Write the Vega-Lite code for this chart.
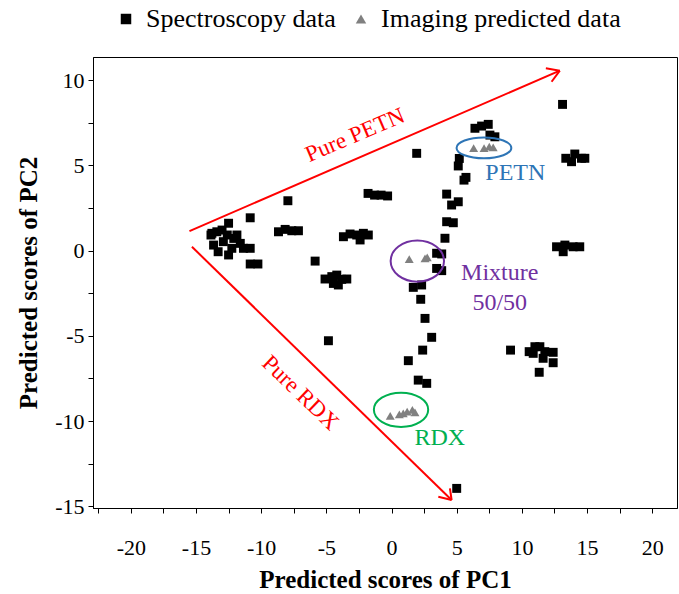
{
  "$schema": "https://vega.github.io/schema/vega-lite/v6.json",
  "width": 584,
  "height": 451,
  "autosize": {"type": "none"},
  "padding": {"left": 93, "top": 57, "right": 2, "bottom": 86},
  "background": "white",
  "config": {
    "view": {"stroke": "black", "strokeWidth": 1},
    "axis": {
      "grid": false,
      "domainColor": "black",
      "tickColor": "black",
      "labelColor": "black",
      "titleColor": "black",
      "labelFont": "Liberation Serif",
      "titleFont": "Liberation Serif",
      "labelFontSize": 22,
      "titleFontSize": 25,
      "titleFontWeight": "bold",
      "tickSize": 5,
      "labelOverlap": false
    },
    "legend": {"labelFont": "Liberation Serif", "labelFontSize": 26, "labelColor": "black", "labelLimit": 400}
  },
  "datasets": {
    "pts": [
      {"type": "Spectroscopy data", "x": -13.85, "y": 0.91},
      {"type": "Spectroscopy data", "x": -13.78, "y": 1.01},
      {"type": "Spectroscopy data", "x": -13.4, "y": 1.1},
      {"type": "Spectroscopy data", "x": -13.0, "y": 1.2},
      {"type": "Spectroscopy data", "x": -12.5, "y": 1.6},
      {"type": "Spectroscopy data", "x": -12.6, "y": 0.91},
      {"type": "Spectroscopy data", "x": -12.1, "y": 0.71},
      {"type": "Spectroscopy data", "x": -12.9, "y": 0.52},
      {"type": "Spectroscopy data", "x": -13.3, "y": -0.07},
      {"type": "Spectroscopy data", "x": -12.5, "y": -0.26},
      {"type": "Spectroscopy data", "x": -12.25, "y": 0.13},
      {"type": "Spectroscopy data", "x": -11.6, "y": 0.42},
      {"type": "Spectroscopy data", "x": -11.36, "y": 0.13},
      {"type": "Spectroscopy data", "x": -10.84, "y": 0.13},
      {"type": "Spectroscopy data", "x": -13.65, "y": 0.32},
      {"type": "Spectroscopy data", "x": -11.86, "y": 0.91},
      {"type": "Spectroscopy data", "x": -10.84, "y": 1.92},
      {"type": "Spectroscopy data", "x": -7.95, "y": 2.92},
      {"type": "Spectroscopy data", "x": -8.67, "y": 1.1},
      {"type": "Spectroscopy data", "x": -8.16, "y": 1.24},
      {"type": "Spectroscopy data", "x": -7.65, "y": 1.16},
      {"type": "Spectroscopy data", "x": -7.14, "y": 1.16},
      {"type": "Spectroscopy data", "x": -10.84, "y": -0.79},
      {"type": "Spectroscopy data", "x": -10.25, "y": -0.79},
      {"type": "Spectroscopy data", "x": -5.86, "y": -0.62},
      {"type": "Spectroscopy data", "x": -5.1, "y": -1.67},
      {"type": "Spectroscopy data", "x": -4.58, "y": -1.53},
      {"type": "Spectroscopy data", "x": -4.2, "y": -1.44},
      {"type": "Spectroscopy data", "x": -3.82, "y": -1.69},
      {"type": "Spectroscopy data", "x": -3.43, "y": -1.67},
      {"type": "Spectroscopy data", "x": -4.46, "y": -1.93},
      {"type": "Spectroscopy data", "x": -4.08, "y": -2.02},
      {"type": "Spectroscopy data", "x": -3.69, "y": 0.81},
      {"type": "Spectroscopy data", "x": -3.18, "y": 0.97},
      {"type": "Spectroscopy data", "x": -2.67, "y": 0.91},
      {"type": "Spectroscopy data", "x": -2.16, "y": 1.01},
      {"type": "Spectroscopy data", "x": -1.78, "y": 0.91},
      {"type": "Spectroscopy data", "x": -2.41, "y": 0.62},
      {"type": "Spectroscopy data", "x": -1.8, "y": 3.35},
      {"type": "Spectroscopy data", "x": -1.3, "y": 3.25},
      {"type": "Spectroscopy data", "x": -0.8, "y": 3.25},
      {"type": "Spectroscopy data", "x": -0.3, "y": 3.2},
      {"type": "Spectroscopy data", "x": -4.84, "y": -5.29},
      {"type": "Spectroscopy data", "x": 1.93, "y": 5.7},
      {"type": "Spectroscopy data", "x": 6.4, "y": 7.17},
      {"type": "Spectroscopy data", "x": 6.91, "y": 7.3},
      {"type": "Spectroscopy data", "x": 7.42, "y": 7.4},
      {"type": "Spectroscopy data", "x": 7.55, "y": 6.77},
      {"type": "Spectroscopy data", "x": 7.93, "y": 6.67},
      {"type": "Spectroscopy data", "x": 5.2, "y": 5.4},
      {"type": "Spectroscopy data", "x": 5.12, "y": 4.96},
      {"type": "Spectroscopy data", "x": 5.71, "y": 4.29},
      {"type": "Spectroscopy data", "x": 5.56, "y": 4.13},
      {"type": "Spectroscopy data", "x": 4.23, "y": 3.31},
      {"type": "Spectroscopy data", "x": 5.12, "y": 2.86},
      {"type": "Spectroscopy data", "x": 4.61, "y": 2.67},
      {"type": "Spectroscopy data", "x": 4.23, "y": 1.69},
      {"type": "Spectroscopy data", "x": 4.74, "y": 1.63},
      {"type": "Spectroscopy data", "x": 4.1, "y": 0.72},
      {"type": "Spectroscopy data", "x": 3.46, "y": -0.16},
      {"type": "Spectroscopy data", "x": 3.85, "y": -0.2},
      {"type": "Spectroscopy data", "x": 3.46, "y": -1.05},
      {"type": "Spectroscopy data", "x": 3.85, "y": -1.18},
      {"type": "Spectroscopy data", "x": 1.67, "y": -2.16},
      {"type": "Spectroscopy data", "x": 2.31, "y": -2.02},
      {"type": "Spectroscopy data", "x": 2.24, "y": -2.86},
      {"type": "Spectroscopy data", "x": 2.57, "y": -3.98},
      {"type": "Spectroscopy data", "x": 3.08, "y": -5.09},
      {"type": "Spectroscopy data", "x": 2.39, "y": -5.84},
      {"type": "Spectroscopy data", "x": 1.29, "y": -6.46},
      {"type": "Spectroscopy data", "x": 2.05, "y": -7.6},
      {"type": "Spectroscopy data", "x": 2.7, "y": -7.79},
      {"type": "Spectroscopy data", "x": 13.12, "y": 8.57},
      {"type": "Spectroscopy data", "x": 13.37, "y": 5.41},
      {"type": "Spectroscopy data", "x": 14.06, "y": 5.66},
      {"type": "Spectroscopy data", "x": 14.57, "y": 5.41},
      {"type": "Spectroscopy data", "x": 13.81, "y": 5.21},
      {"type": "Spectroscopy data", "x": 14.83, "y": 5.41},
      {"type": "Spectroscopy data", "x": 12.66, "y": 0.22},
      {"type": "Spectroscopy data", "x": 13.3, "y": 0.32},
      {"type": "Spectroscopy data", "x": 13.93, "y": 0.22},
      {"type": "Spectroscopy data", "x": 14.44, "y": 0.22},
      {"type": "Spectroscopy data", "x": 13.17, "y": -0.07},
      {"type": "Spectroscopy data", "x": 9.13, "y": -5.84},
      {"type": "Spectroscopy data", "x": 10.56, "y": -5.93},
      {"type": "Spectroscopy data", "x": 11.0, "y": -5.64},
      {"type": "Spectroscopy data", "x": 11.38, "y": -5.64},
      {"type": "Spectroscopy data", "x": 11.76, "y": -5.93},
      {"type": "Spectroscopy data", "x": 12.4, "y": -5.97},
      {"type": "Spectroscopy data", "x": 11.63, "y": -6.32},
      {"type": "Spectroscopy data", "x": 12.4, "y": -6.58},
      {"type": "Spectroscopy data", "x": 10.87, "y": -6.03},
      {"type": "Spectroscopy data", "x": 11.33, "y": -7.14},
      {"type": "Spectroscopy data", "x": 5.0, "y": -13.95},
      {"type": "Imaging predicted data", "x": 6.3, "y": 6.0},
      {"type": "Imaging predicted data", "x": 7.1, "y": 6.0},
      {"type": "Imaging predicted data", "x": 7.5, "y": 6.1},
      {"type": "Imaging predicted data", "x": 7.8, "y": 6.05},
      {"type": "Imaging predicted data", "x": 1.36, "y": -0.5},
      {"type": "Imaging predicted data", "x": 2.57, "y": -0.46},
      {"type": "Imaging predicted data", "x": 2.74, "y": -0.4},
      {"type": "Imaging predicted data", "x": -0.1, "y": -9.69},
      {"type": "Imaging predicted data", "x": 0.6, "y": -9.61},
      {"type": "Imaging predicted data", "x": 0.9, "y": -9.55},
      {"type": "Imaging predicted data", "x": 1.2, "y": -9.45},
      {"type": "Imaging predicted data", "x": 1.6, "y": -9.35},
      {"type": "Imaging predicted data", "x": 1.8, "y": -9.49}
    ],
    "arrows": [
      {"x": -15.5, "y": 1.14, "x2": 12.91, "y2": 10.55},
      {"x": 11.84, "y": 10.69, "x2": 12.91, "y2": 10.55},
      {"x": 12.28, "y": 9.9, "x2": 12.91, "y2": 10.55},
      {"x": -15.31, "y": 0.22, "x2": 4.61, "y2": -14.63},
      {"x": 3.59, "y": -14.44, "x2": 4.61, "y2": -14.63},
      {"x": 4.48, "y": -13.95, "x2": 4.61, "y2": -14.63}
    ]
  },
  "layer": [
    {
      "mark": {"type": "rule", "color": "black", "strokeWidth": 1},
      "encoding": {"y": {"datum": 0, "type": "quantitative"}}
    },
    {
      "mark": {"type": "rule", "color": "black", "strokeWidth": 1},
      "encoding": {"x": {"datum": 0, "type": "quantitative"}}
    },
    {
      "data": {"name": "pts"},
      "mark": {"type": "point", "filled": true, "opacity": 1, "size": 80},
      "encoding": {
        "x": {
          "field": "x", "type": "quantitative",
          "scale": {"domain": [-22.9, 21.9], "nice": false, "zero": false},
          "axis": {
            "title": "Predicted scores of PC1",
            "values": [-22.5, -20, -17.5, -15, -12.5, -10, -7.5, -5, -2.5, 0, 2.5, 5, 7.5, 10, 12.5, 15, 17.5, 20],
            "tickCount": 40,
            "labelExpr": "datum.value % 5 === 0 ? '' + datum.value : ''",
            "labelPadding": 24,
            "titlePadding": 9
          }
        },
        "y": {
          "field": "y", "type": "quantitative",
          "scale": {"domain": [-15.1, 11.35], "nice": false, "zero": false},
          "axis": {
            "title": "Predicted scores of PC2",
            "values": [-15, -12.5, -10, -7.5, -5, -2.5, 0, 2.5, 5, 7.5, 10],
            "tickCount": 40,
            "labelExpr": "datum.value % 5 === 0 ? '' + datum.value : ''",
            "labelPadding": 4,
            "titlePadding": 13
          }
        },
        "color": {
          "field": "type", "type": "nominal",
          "scale": {"domain": ["Spectroscopy data", "Imaging predicted data"], "range": ["#000000", "#808080"]},
          "legend": {"title": null, "orient": "none", "direction": "horizontal", "legendX": 20, "legendY": -51, "symbolSize": 110, "columnPadding": 12, "labelOffset": 7}
        },
        "shape": {
          "field": "type", "type": "nominal",
          "scale": {"domain": ["Spectroscopy data", "Imaging predicted data"], "range": ["square", "triangle-up"]},
          "legend": {"title": null, "orient": "none", "direction": "horizontal", "legendX": 20, "legendY": -51, "symbolSize": 110, "columnPadding": 12, "labelOffset": 7}
        }
      }
    },
    {
      "data": {"name": "arrows"},
      "mark": {"type": "rule", "color": "#ff0000", "strokeWidth": 2},
      "encoding": {
        "x": {"field": "x", "type": "quantitative"},
        "y": {"field": "y", "type": "quantitative"},
        "x2": {"field": "x2"},
        "y2": {"field": "y2"}
      }
    },
    {
      "data": {"values": [{"x": 7.09, "y": 6.02}]},
      "mark": {"type": "point", "filled": false, "color": "#2E75B6", "strokeWidth": 2, "opacity": 1, "size": 3000, "shape": "M-1,0A1,0.38 0 1,1 1,0A1,0.38 0 1,1 -1,0Z"},
      "encoding": {"x": {"field": "x", "type": "quantitative"}, "y": {"field": "y", "type": "quantitative"}}
    },
    {
      "data": {"values": [{"x": 1.98, "y": -0.62}]},
      "mark": {"type": "point", "filled": false, "color": "#7030A0", "strokeWidth": 2, "opacity": 1, "size": 2850, "shape": "M-1,0A1,0.77 0 1,1 1,0A1,0.77 0 1,1 -1,0Z"},
      "encoding": {"x": {"field": "x", "type": "quantitative"}, "y": {"field": "y", "type": "quantitative"}}
    },
    {
      "data": {"values": [{"x": 0.73, "y": -9.34}]},
      "mark": {"type": "point", "filled": false, "color": "#00B050", "strokeWidth": 2, "opacity": 1, "size": 2950, "shape": "M-1,0A1,0.63 0 1,1 1,0A1,0.63 0 1,1 -1,0Z"},
      "encoding": {"x": {"field": "x", "type": "quantitative"}, "y": {"field": "y", "type": "quantitative"}}
    },
    {
      "data": {"values": [{"x": -2.8, "y": 6.77, "label": "Pure PETN"}]},
      "mark": {"type": "text", "color": "#ff0000", "font": "Liberation Serif", "fontSize": 23, "angle": -23, "align": "center", "baseline": "middle"},
      "encoding": {"x": {"field": "x", "type": "quantitative"}, "y": {"field": "y", "type": "quantitative"}, "text": {"field": "label"}}
    },
    {
      "data": {"values": [{"x": -7.0, "y": -8.35, "label": "Pure RDX"}]},
      "mark": {"type": "text", "color": "#ff0000", "font": "Liberation Serif", "fontSize": 23, "angle": 44, "align": "center", "baseline": "middle"},
      "encoding": {"x": {"field": "x", "type": "quantitative"}, "y": {"field": "y", "type": "quantitative"}, "text": {"field": "label"}}
    },
    {
      "data": {"values": [{"x": 9.5, "y": 4.55, "label": "PETN"}]},
      "mark": {"type": "text", "color": "#2E75B6", "font": "Liberation Serif", "fontSize": 24, "align": "center", "baseline": "middle"},
      "encoding": {"x": {"field": "x", "type": "quantitative"}, "y": {"field": "y", "type": "quantitative"}, "text": {"field": "label"}}
    },
    {
      "data": {"values": [{"x": 8.3, "y": -1.3, "label": "Mixture"}, {"x": 8.3, "y": -3.08, "label": "50/50"}]},
      "mark": {"type": "text", "color": "#7030A0", "font": "Liberation Serif", "fontSize": 24, "align": "center", "baseline": "middle"},
      "encoding": {"x": {"field": "x", "type": "quantitative"}, "y": {"field": "y", "type": "quantitative"}, "text": {"field": "label"}}
    },
    {
      "data": {"values": [{"x": 3.7, "y": -11.0, "label": "RDX"}]},
      "mark": {"type": "text", "color": "#00B050", "font": "Liberation Serif", "fontSize": 24, "align": "center", "baseline": "middle"},
      "encoding": {"x": {"field": "x", "type": "quantitative"}, "y": {"field": "y", "type": "quantitative"}, "text": {"field": "label"}}
    }
  ]
}
